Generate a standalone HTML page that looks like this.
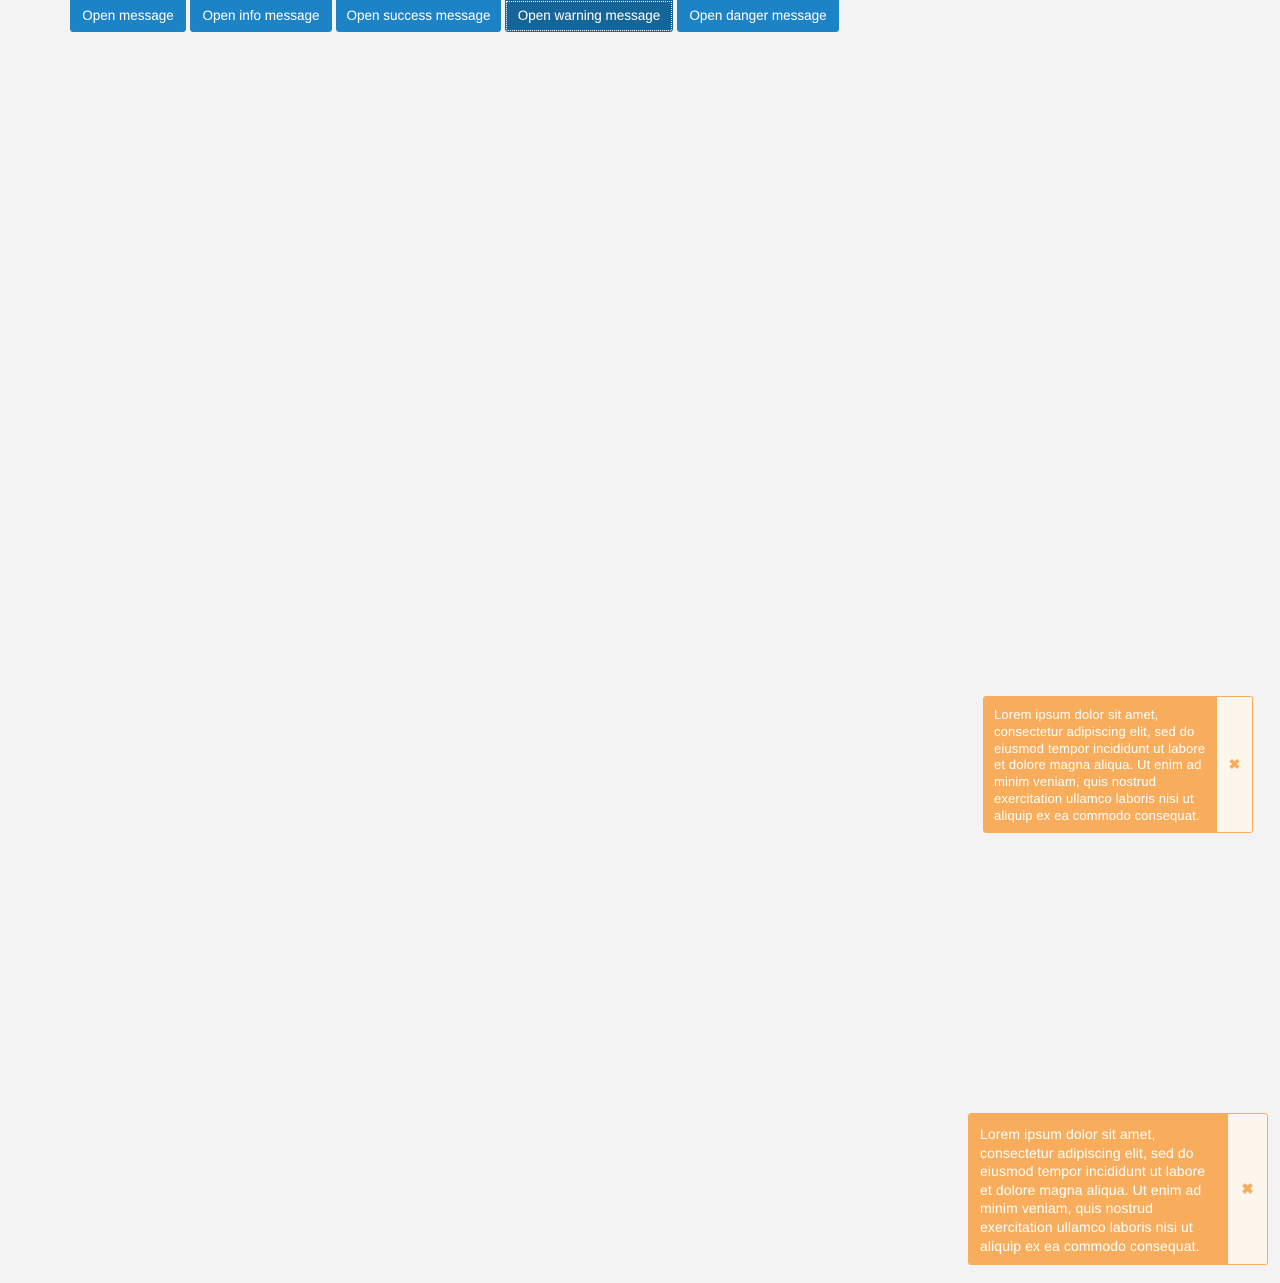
<!DOCTYPE html>
<html><head><style>
body{margin:0;width:1280px;height:1283px;background:#f3f3f3;font-family:"Liberation Sans",sans-serif;position:relative;overflow:hidden}
.b{position:absolute;top:0;height:32px;background:#1c84c6;color:#fff;font-size:13.5px;line-height:32px;text-align:center;border-radius:0 0 3px 3px}
.t{position:absolute;border:1px solid #f7ad5b;border-radius:3px;background:#fdf6ec;overflow:hidden}
.t .m{position:absolute;left:0;top:0;bottom:0;background:#f7ad5b;color:#fff;box-sizing:border-box;white-space:nowrap}
.t .x{position:absolute;top:0;bottom:0;right:0;display:flex;align-items:center;justify-content:center;color:#f7ad5b;font-weight:bold}
</style></head><body>
<div class="b" style="left:70px;width:116px">Open message</div>
<div class="b" style="left:190px;width:142px">Open info message</div>
<div class="b" style="left:336px;width:165px">Open success message</div>
<div class="b" style="left:505px;width:168px;background:#166599;outline:1px dotted #fff;outline-offset:-2px">Open warning message</div>
<div class="b" style="left:677px;width:162px">Open danger message</div>

<div class="t" style="left:983px;top:696px;width:268px;height:135px">
<div class="m" style="width:233px;padding:10px 0 0 10px;font-size:13px;letter-spacing:0.15px;line-height:16.8px">Lorem ipsum dolor sit amet,<br>consectetur adipiscing elit, sed do<br>eiusmod tempor incididunt ut labore<br>et dolore magna aliqua. Ut enim ad<br>minim veniam, quis nostrud<br>exercitation ullamco laboris nisi ut<br>aliquip ex ea commodo consequat.</div>
<div class="x" style="width:35px;font-size:14px">✖</div></div>

<div class="t" style="left:968px;top:1113px;width:298px;height:150px">
<div class="m" style="width:259px;padding:11px 0 0 11px;font-size:14px;letter-spacing:0.1px;line-height:18.6px">Lorem ipsum dolor sit amet,<br>consectetur adipiscing elit, sed do<br>eiusmod tempor incididunt ut labore<br>et dolore magna aliqua. Ut enim ad<br>minim veniam, quis nostrud<br>exercitation ullamco laboris nisi ut<br>aliquip ex ea commodo consequat.</div>
<div class="x" style="width:39px;font-size:15px">✖</div></div>
</body></html>
